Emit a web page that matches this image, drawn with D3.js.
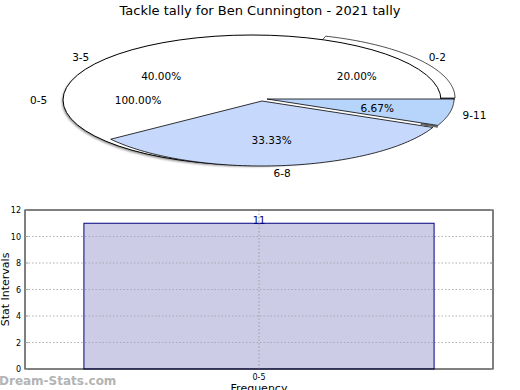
<!DOCTYPE html>
<html><head><meta charset="utf-8">
<script src="https://cdn.jsdelivr.net/npm/d3@7"></script>
<style>body{margin:0;background:#fff}svg{display:block;font-family:"DejaVu Sans",sans-serif}</style>
</head><body>
<svg id="c" width="520" height="390"></svg>
<script>
const title = "Tackle tally for Ben Cunnington - 2021 tally";
const pieCats = ["0-2","3-5","6-8","9-11"];
const pieVals = [3,6,5,1];
const pieColors = ["#ffffff","#ffffff","#c6d9fd","#b7d4fb"];
const fullCat = "0-5";
const fullPct = 100;
const barCats = ["0-5"];
const barVals = [11];
const yTicks = [0,2,4,6,8,10,12];

const svg = d3.select("#c");
svg.append("text").attr("x",260).attr("y",15).attr("text-anchor","middle")
  .attr("font-size",13).text(title);

// pie (elliptical)
const cx=262, cy=101, rx=187, ry=65;
const sliceOff = [[6,-3],[0,0],[0,0],[5,-2]];
const fullOff = [-10,-1];
const total = d3.sum(pieVals);
const ang = d3.scaleLinear().domain([0,total]).range([0,2*Math.PI]);
let cum=0;
const slices = pieVals.map((v,i)=>{const s={i,a0:ang(cum),a1:ang(cum+v),v};cum+=v;return s;});
function slicePath(s,dx,dy){
  const p=d3.path();
  p.moveTo(cx+dx,cy+dy);
  const n=80;
  for(let j=0;j<=n;j++){const a=s.a0+(s.a1-s.a0)*j/n;p.lineTo(cx+dx+rx*Math.cos(a),cy+dy-ry*Math.sin(a));}
  p.closePath();
  return p.toString();
}
const defs=svg.append("defs");
defs.append("filter").attr("id","blur").append("feGaussianBlur").attr("stdDeviation",1.3);
svg.append("ellipse").attr("cx",cx+fullOff[0]-2).attr("cy",cy+fullOff[1]+1.5).attr("rx",rx+1).attr("ry",ry)
  .attr("fill","#8a8a8a").attr("filter","url(#blur)");
{const s=slices[0],o=sliceOff[0];
 svg.append("path").attr("d",slicePath(s,o[0],o[1]+1.8)).attr("fill","#555");
 svg.append("path").attr("d",slicePath(s,o[0],o[1])).attr("fill","#fff").attr("stroke","#000").attr("stroke-width",0.7);}
{const s=slices[1],o=sliceOff[1];
 svg.append("path").attr("d",slicePath(s,o[0],o[1])).attr("fill","#fff");}
svg.append("ellipse").attr("cx",cx+fullOff[0]).attr("cy",cy+fullOff[1]).attr("rx",rx+2).attr("ry",ry)
  .attr("fill","#fff").attr("stroke","#000").attr("stroke-width",1);
{const s=slices[2],o=sliceOff[2];
 svg.append("path").attr("d",slicePath(s,o[0],o[1])).attr("fill",pieColors[2])
   .attr("stroke","#000").attr("stroke-width",0.8).attr("stroke-linejoin","round");}
{const s=slices[3],o=sliceOff[3];
 // small depth piece at the outer end of the lower edge
 const a=s.a0, x1=cx+o[0]+rx*0.9*Math.cos(a), y1=cy+o[1]-ry*0.9*Math.sin(a),
       x2=cx+o[0]+rx*Math.cos(a), y2=cy+o[1]-ry*Math.sin(a);
 svg.append("line").attr("x1",x1).attr("y1",y1+1.2).attr("x2",x2).attr("y2",y2+1.2).attr("stroke","#666").attr("stroke-width",2);
 svg.append("path").attr("d",slicePath(s,o[0],o[1])).attr("fill",pieColors[3])
   .attr("stroke","#000").attr("stroke-width",0.8).attr("stroke-linejoin","round");}
const lcx=259, lcy=100, lrx=195, lry=65;
function lp(a,k){return [lcx+lrx*k*Math.cos(a), lcy-lry*k*Math.sin(a)];}
const fmt=d3.format(".2f");
function lab(p,t){svg.append("text").attr("x",p[0]).attr("y",p[1]+4).attr("text-anchor","middle").attr("font-size",10.5).text(t);}
slices.forEach(s=>{
  const m=(s.a0+s.a1)/2;
  lab(lp(m,1.13),pieCats[s.i]);
  lab(lp(m,0.62),fmt(s.v/total*100)+"%");
});
lab(lp(Math.PI,1.13),fullCat);
lab(lp(Math.PI,0.62),fmt(fullPct)+"%");

// bar chart
const L=25,R=493,T=210,B=369;
const x=d3.scaleBand().domain(barCats).range([L,R]).padding(0.144);
const y=d3.scaleLinear().domain([0,12]).range([B,T]);
const g=svg.append("g");
yTicks.filter(t=>t>0&&t<12).forEach(t=>{
  g.append("line").attr("x1",L).attr("x2",R).attr("y1",y(t)).attr("y2",y(t))
   .attr("stroke","#b0b0b0").attr("stroke-dasharray","1.5,2").attr("stroke-width",1);
});
g.selectAll("rect.bar").data(barVals).join("rect").attr("class","bar")
  .attr("x",(d,i)=>x(barCats[i])).attr("width",x.bandwidth())
  .attr("y",d=>y(d)).attr("height",d=>B-y(d))
  .attr("fill","#ccccE6").attr("stroke","#000080").attr("stroke-width",1);
yTicks.filter(t=>t>0&&t<12).forEach(t=>{
  g.append("line").attr("x1",x(barCats[0])+1).attr("x2",x(barCats[0])+x.bandwidth()-1).attr("y1",y(t)).attr("y2",y(t))
   .attr("stroke","#a8a8b8").attr("stroke-dasharray","1.5,2").attr("stroke-width",1);
});
barCats.forEach(c=>{
  const xc=x(c)+x.bandwidth()/2;
  g.append("line").attr("x1",xc).attr("x2",xc).attr("y1",T).attr("y2",B)
   .attr("stroke","#a0a0a0").attr("stroke-dasharray","1.5,2");
});
g.selectAll("text.val").data(barVals).join("text").attr("class","val")
  .attr("x",(d,i)=>x(barCats[i])+x.bandwidth()/2).attr("y",d=>y(d)+0.5)
  .attr("text-anchor","middle").attr("font-size",10).attr("fill","#000080").text(d=>d);
g.append("rect").attr("x",L).attr("y",T).attr("width",R-L).attr("height",B-T)
  .attr("fill","none").attr("stroke","#000").attr("stroke-width",1);
const yAx=d3.axisLeft(y).tickValues(yTicks).tickSize(0).tickPadding(4);
const ya=svg.append("g").attr("transform",`translate(${L},0)`).call(yAx);
ya.select(".domain").remove();
ya.selectAll("text").attr("font-size",8).attr("font-family","DejaVu Sans");
yTicks.forEach(t=>{
  svg.append("line").attr("x1",L).attr("x2",L+3).attr("y1",y(t)).attr("y2",y(t)).attr("stroke","#999");
  svg.append("line").attr("x1",R).attr("x2",R-3).attr("y1",y(t)).attr("y2",y(t)).attr("stroke","#999");
});
const xAx=d3.axisBottom(x).tickSize(0).tickPadding(5);
const xa=svg.append("g").attr("transform",`translate(0,${B})`).call(xAx);
xa.select(".domain").remove();
xa.selectAll("text").attr("font-size",8).attr("font-family","DejaVu Sans");
svg.append("text").attr("x",259).attr("y",392).attr("text-anchor","middle").attr("font-size",11).text("Frequency");
svg.append("text").attr("transform",`translate(9,${(T+B)/2}) rotate(-90)`).attr("text-anchor","middle").attr("font-size",11).text("Stat Intervals");
svg.append("text").attr("x",-1).attr("y",385).attr("font-size",12).attr("font-weight","bold").attr("fill","#b4b4b4").text("Dream-Stats.com");
</script>
</body></html>
